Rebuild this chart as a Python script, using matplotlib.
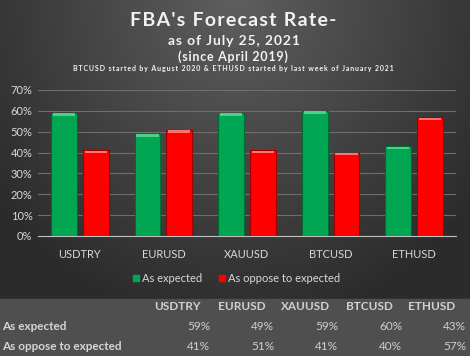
import numpy as np
import matplotlib
matplotlib.use('Agg')
import matplotlib.pyplot as plt
from matplotlib.patches import Rectangle

# ==========================================
# DATA
# ==========================================

pairs = ["USDTRY", "EURUSD", "XAUUSD", "BTCUSD", "ETHUSD"]
as_expected = [59, 49, 59, 60, 43]
as_oppose = [41, 51, 41, 40, 57]

series_names = ["As expected", "As oppose to expected"]
y_ticks = [0, 10, 20, 30, 40, 50, 60, 70]

GREEN = "#00a651"
RED = "#ff0000"
FONT = "Lato"

plt.rcParams['font.family'] = [FONT, 'DejaVu Sans']

W, H = 470, 356
fig = plt.figure(figsize=(W / 100, H / 100), dpi=100)


def spaced(s, sep="\u200a"):
    # crude letter spacing like the original title
    return sep.join(s)


# ==========================================
# BACKGROUND
# ==========================================

bg = fig.add_axes([0, 0, 1, 1], zorder=-5)
yy, xx = np.mgrid[0:300, 0:470]
dist = np.sqrt(((xx - 235) / 300.0) ** 2 + ((yy - 0) / 330.0) ** 2)
shade = np.clip(0.37 - 0.20 * dist, 0.17, 0.37)
img = np.dstack([shade, shade, shade])
bg.imshow(img, extent=[0, W, H - 299, H], aspect='auto', origin='upper')
bg.add_patch(Rectangle((0, 0), W, H - 299, color="#4f4f4f"))
bg.set_xlim(0, W)
bg.set_ylim(0, H)
bg.axis('off')

# ==========================================
# BAR CHART
# ==========================================

ax = fig.add_axes([38 / W, 1 - 236 / H, (456 - 38) / W, (236 - 90) / H])
ax.patch.set_alpha(0)

x = np.arange(len(pairs))
bw = 0.31
off = 0.19

for vals, shift, col, edge, hi in [
    (as_expected, -off, GREEN, "#006b33", "#4fd08a"),
    (as_oppose, off, RED, "#a00000", "#ff7070"),
]:
    vals = np.array(vals)
    ax.bar(x + shift, vals, bw, color=col, edgecolor=edge, linewidth=0.8, zorder=3)
    ax.bar(x + shift, 1.2, bw * 0.86, bottom=vals - 1.4, color=hi,
           linewidth=0, zorder=4)

ax.set_xlim(-0.5, len(pairs) - 0.5)
ax.set_ylim(0, 70)
ax.set_yticks(y_ticks)
ax.set_yticklabels([f"{v}%" for v in y_ticks], color="#d9d9d9", fontsize=8)
ax.set_xticks(x)
ax.set_xticklabels(pairs, color="#d9d9d9", fontsize=8)
ax.tick_params(length=0, pad=4)
ax.tick_params(axis='x', pad=9)
ax.grid(axis='y', color="#6e6e6e", linewidth=0.8, zorder=0)
for s in ["top", "right", "left"]:
    ax.spines[s].set_visible(False)
ax.spines["bottom"].set_color("#bfbfbf")
ax.spines["bottom"].set_zorder(5)

# ==========================================
# TITLES
# ==========================================

fig.text(233 / W, 1 - 20 / H, spaced("FBA's Forecast Rate-"), ha='center', va='center',
         fontsize=14, fontweight='bold', color="#f2f2f2")
fig.text(234 / W, 1 - 41 / H, spaced("as of July 25, 2021"), ha='center', va='center',
         fontsize=10, fontweight='bold', color="#f2f2f2")
fig.text(233 / W, 1 - 57 / H, spaced("(since April 2019)"), ha='center', va='center',
         fontsize=9, fontweight='bold', color="#f2f2f2")
fig.text(233 / W, 1 - 69 / H,
         spaced("BTCUSD started by August 2020 & ETHUSD started by last week of January 2021",
                "\u2009"),
         ha='center', va='center', fontsize=5, fontweight='bold', color="#f2f2f2")

# ==========================================
# LEGEND
# ==========================================

for mx, col, name in [(136, GREEN, series_names[0]), (222, RED, series_names[1])]:
    fig.patches.append(Rectangle(((mx - 3) / W, 1 - 281 / H), 6 / W, 6 / H,
                                 transform=fig.transFigure, color=col))
    fig.text((mx + 6) / W, 1 - 278 / H, name, ha='left', va='center',
             fontsize=8, color="#d9d9d9")

# ==========================================
# TABLE
# ==========================================

head_x = [177, 242, 306, 369, 432]
val_right = [210, 274, 338, 402, 466]

for cx, p in zip(head_x, pairs):
    fig.text(cx / W, 1 - 306 / H, p, ha='center', va='center',
             fontsize=8.5, fontweight='bold', color="#d0d0d0")

for row_y, name, vals in [(327, series_names[0], as_expected),
                          (347, series_names[1], as_oppose)]:
    fig.text(2 / W, 1 - row_y / H, name, ha='left', va='center',
             fontsize=8.5, fontweight='bold', color="#d6d6d6")
    for rx, v in zip(val_right, vals):
        fig.text(rx / W, 1 - row_y / H, f"{v}%", ha='right', va='center',
                 fontsize=8.5, color="#cfcfcf")

fig.savefig("out.png", dpi=100)
